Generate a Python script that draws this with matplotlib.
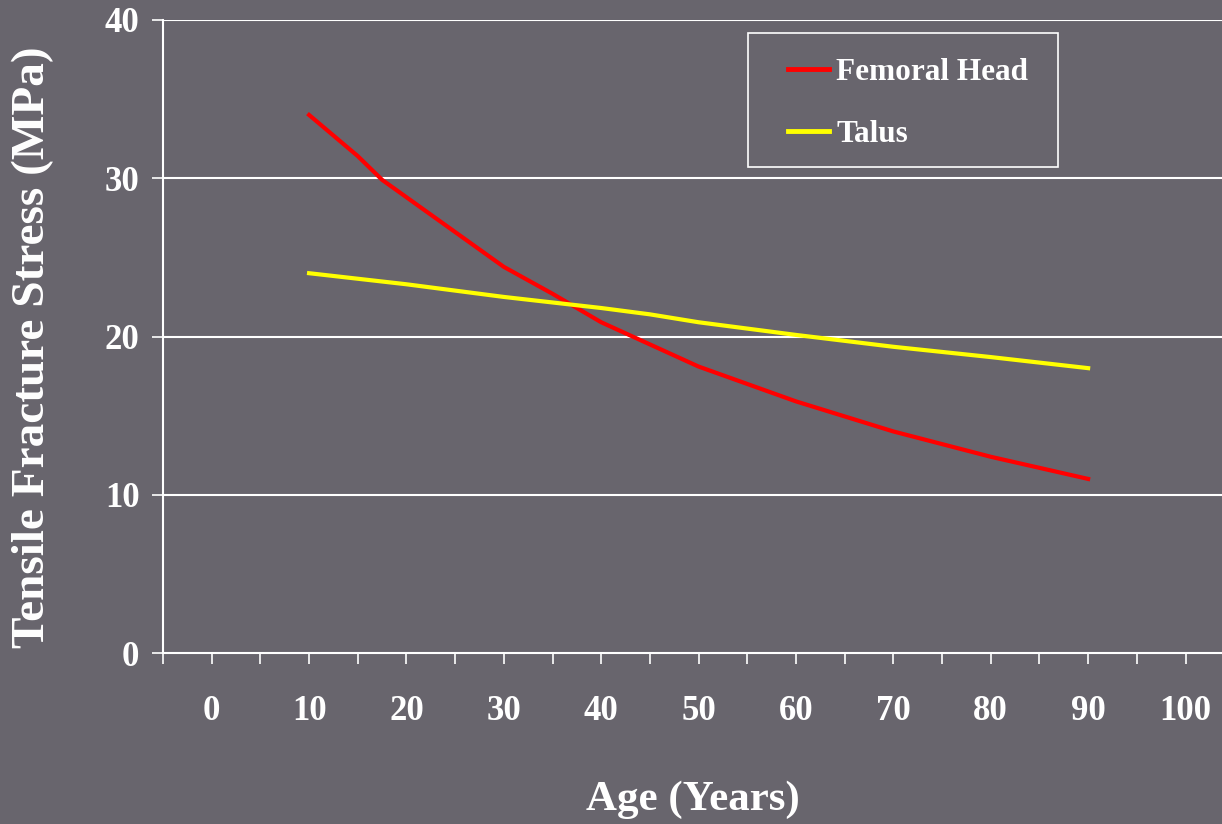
import numpy as np
import matplotlib
matplotlib.use("Agg")
import matplotlib.pyplot as plt
from matplotlib.ticker import MultipleLocator
from matplotlib.patches import Rectangle

# data
femoral_age = [10, 15, 17.5, 30, 35, 40, 50, 60, 70, 80, 90]
femoral_mpa = [34.0, 31.4, 29.9, 24.4, 22.7, 20.9, 18.1, 15.9, 14.0, 12.4, 11.0]
talus_age = [10, 20, 30, 40, 45, 50, 60, 70, 80, 90]
talus_mpa = [24.0, 23.3, 22.5, 21.8, 21.4, 20.9, 20.1, 19.35, 18.7, 18.0]
x_ticks = [0, 10, 20, 30, 40, 50, 60, 70, 80, 90, 100]
y_ticks = [0, 10, 20, 30, 40]

bg = "#68656d"
plt.rcParams["font.family"] = ["Liberation Serif", "DejaVu Serif"]
plt.rcParams["font.weight"] = "bold"

W, H = 1222, 824
fig = plt.figure(figsize=(W / 100, H / 100), dpi=100, facecolor=bg)
ax = fig.add_axes([163 / W, 1 - 653 / H, 1 - 163 / W, 633 / H])
ax.set_facecolor(bg)

for y in y_ticks[1:]:
    ax.axhline(y, color="white", lw=1.5, zorder=1)

ax.plot(femoral_age, femoral_mpa, color="#ff0000", lw=3, label="Femoral Head", zorder=3)
ax.plot(talus_age, talus_mpa, color="#ffff00", lw=3, label="Talus", zorder=3)

ax.set_xlim(-5, (W - 211.5) / 9.74)
ax.set_ylim(0, 40)
ax.set_xticks(x_ticks)
ax.xaxis.set_minor_locator(MultipleLocator(5))
ax.set_yticks(y_ticks)

for s in ["top", "right"]:
    ax.spines[s].set_visible(False)
for s in ["left", "bottom"]:
    ax.spines[s].set_color("white")
    ax.spines[s].set_linewidth(1.5)

ax.tick_params(axis="x", which="both", colors="white", direction="out", length=8, width=1.2,
               labelsize=25, pad=22)
ax.tick_params(axis="y", colors="white", direction="out", length=8, width=1.2,
               labelsize=25, pad=9)
for lab in ax.get_xticklabels() + ax.get_yticklabels():
    lab.set_fontweight("bold")

ax.set_xlabel("Age (Years)", color="white", fontsize=31, fontweight="bold", va="center")
ax.xaxis.set_label_coords(0.5, -(800 - 653) / 633)
ax.set_ylabel("Tensile Fracture Stress (MPa)", color="white", fontsize=34, fontweight="bold",
              va="center")
ax.yaxis.set_label_coords((33 - 163) / 1059, (653 - 347) / 633)

# legend: frame drawn separately so the handles can sit inset like the original
fig.patches.append(Rectangle((748 / W, 1 - 167 / H), 310 / W, 134 / H, transform=fig.transFigure,
                             facecolor="none", edgecolor="white", lw=1.2, zorder=5))
leg = ax.legend(loc="upper left", bbox_to_anchor=(788 / W, 1 - 58 / H), bbox_transform=fig.transFigure,
                frameon=False, fontsize=22.5, handlelength=1.3, handletextpad=0.25,
                labelspacing=1.05, borderpad=0, borderaxespad=0, labelcolor="white")
for t in leg.get_texts():
    t.set_fontweight("bold")
for h in leg.get_lines():
    h.set_linewidth(3.5)

fig.savefig("out.png", dpi=100, facecolor=bg)
